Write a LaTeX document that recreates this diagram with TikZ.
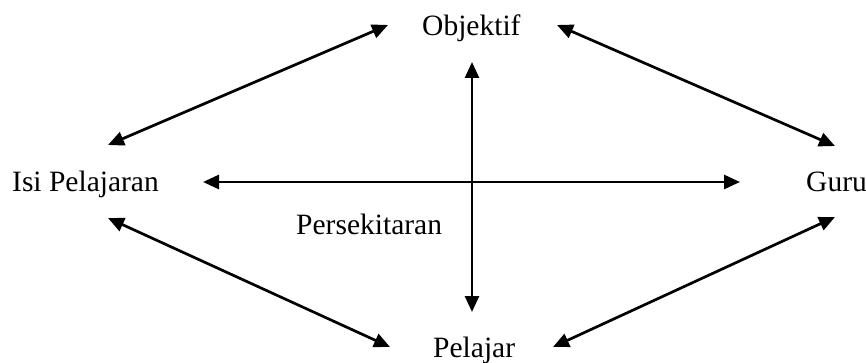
\documentclass[tikz,border=0pt]{standalone}
\usepackage{fontspec}
\setmainfont{Liberation Serif}
\usetikzlibrary{arrows.meta}

\begin{document}
\begin{tikzpicture}[
            x = 1pt, y = -1pt,
            > = {Triangle[length=16pt,width=14pt]},
  label/.style = {anchor=base west, inner sep=0pt,
                  font=\fontsize{29.5}{34}\selectfont},
   link/.style = {line width=2.7pt, <->}
                        ]
\useasboundingbox (0,0) rectangle (866,363);
% words
\node[label] (obj)  at (422,35.5) {Objektif};
\node[label] (isi)  at (12,192)   {Isi Pelajaran};
\node[label] (guru) at (806,192)  {Guru};
\node[label] (pers) at (296,234)  {Persekitaran};
\node[label] (pel)  at (433,357)  {Pelajar};
% arrows round the outside
\draw[link] ([shift={(-34,-10.5)}]obj.base west) -- ([shift={(96,-47)}]isi.base west);
\draw[link] ([shift={(135,-10.5)}]obj.base west) -- ([shift={(29,-46)}]guru.base west);
\draw[link] ([shift={(96,26)}]isi.base west) -- ([shift={(-43,-10)}]pel.base west);
\draw[link] ([shift={(29,25)}]guru.base west) -- ([shift={(120,-10)}]pel.base west);
% the cross
\draw[link] ([shift={(191,-10)}]isi.base west) -- ([shift={(-66,-10)}]guru.base west);
\draw[link] ([shift={(50,26.5)}]obj.base west) -- ([shift={(39,-45)}]pel.base west);
\end{tikzpicture}
\end{document}
